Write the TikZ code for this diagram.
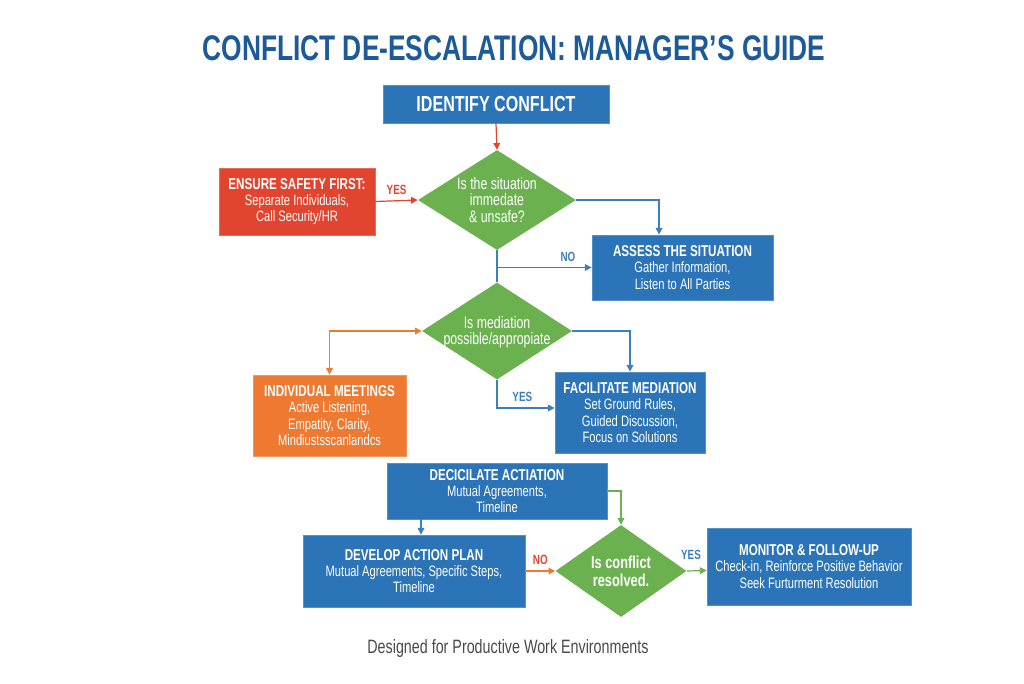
\documentclass[tikz,border=0pt]{standalone}
\usepackage{fontspec}
\setmainfont{Liberation Sans}[FakeStretch=0.74]
\usetikzlibrary{shapes.geometric,arrows.meta,calc}
\definecolor{boxblue}{HTML}{2B74B8}
\definecolor{titleblue}{HTML}{1D5A99}
\definecolor{dgreen}{HTML}{6BB150}
\definecolor{lgreen}{HTML}{6BB150}
\definecolor{bred}{HTML}{E2452F}
\definecolor{borange}{HTML}{EE7A31}
\definecolor{lblue}{HTML}{3B7FC0}
\definecolor{fgray}{HTML}{4A4A4A}
\tikzset{
  box/.style={draw=#1!80!white, line width=0.6pt, fill=#1, text=white, align=center, inner sep=2pt, font=\fontsize{11.3}{12.3}\selectfont},
  dia/.style={diamond, fill=dgreen, draw=none, inner sep=0pt},
  diatext/.style={text=white, align=center, inner sep=0pt, font=\fontsize{12.5}{12.3}\selectfont},
  conn/.style={line width=0.9pt, -{Triangle[length=5pt,width=5pt]}},
  lab/.style={font=\bfseries\fontsize{10}{12}\selectfont},
}
\newcommand{\hd}[1]{{\bfseries\fontsize{11.8}{13.5}\selectfont #1}}
\begin{document}
\begin{tikzpicture}[x=0.75pt,y=-0.75pt]
\useasboundingbox (0,0) rectangle (1024,683);
\fill[white] (0,0) rectangle (1024,683);
% title
\node[text=titleblue, font=\bfseries\fontsize{26.7}{30}\selectfont] (title) at (514,48) {CONFLICT DE-ESCALATION: MANAGER'S GUIDE};
% boxes
\node[box=boxblue, minimum width=226*0.75pt, minimum height=38*0.75pt, font=\bfseries\fontsize{16.3}{18}\selectfont] (idc) at (496,104) {IDENTIFY CONFLICT};
\node[box=bred, minimum width=156*0.75pt, minimum height=67*0.75pt] (ensure) at (297,201.5) {\hd{ENSURE SAFETY FIRST:}\\Separate Individuals,\\Call Security/HR};
\node[box=boxblue, minimum width=181*0.75pt, minimum height=65*0.75pt] (assess) at (682.5,267.5) {\hd{ASSESS THE SITUATION}\\Gather Information,\\Listen to All Parties};
\node[box=borange, minimum width=153*0.75pt, minimum height=81*0.75pt] (indiv) at (329.5,415.5) {\hd{INDIVIDUAL MEETINGS}\\Active Listening,\\Empatity, Clarity,\\Mindiustsscanlandcs};
\node[box=boxblue, minimum width=150*0.75pt, minimum height=81*0.75pt] (facil) at (630,412.5) {\hd{FACILITATE MEDIATION}\\Set Ground Rules,\\Guided Discussion,\\Focus on Solutions};
\node[box=boxblue, minimum width=220*0.75pt, minimum height=56*0.75pt] (decic) at (497,491) {\hd{DECICILATE ACTIATION}\\Mutual Agreements,\\Timeline};
\node[box=boxblue, minimum width=222*0.75pt, minimum height=72*0.75pt] (develop) at (414,571) {\hd{DEVELOP ACTION PLAN}\\Mutual Agreements, Specific Steps,\\Timeline};
\node[box=boxblue, minimum width=204*0.75pt, minimum height=77*0.75pt] (monitor) at (809,566.5) {\hd{MONITOR \& FOLLOW-UP}\\Check-in, Reinforce Positive Behavior\\Seek Furturment Resolution};
% diamonds
\node[dia, minimum width=158*0.75pt, minimum height=100*0.75pt] (d1) at (497,200) {};
\node[diatext] (d1t) at (d1.center) {Is the situation\\immedate\\\& unsafe?};
\node[dia, minimum width=150*0.75pt, minimum height=97*0.75pt] (d2) at (497,331) {};
\node[diatext] (d2t) at ([yshift=-1pt]d2.center) {Is mediation\\possible/appropiate};
\node[dia, minimum width=131*0.75pt, minimum height=92*0.75pt] (d3) at (621,571) {};
\node[diatext, font=\bfseries\fontsize{13}{13.5}\selectfont] (d3t) at (d3.center) {Is conflict\\resolved.};
% connectors
\draw[conn, bred] (idc.south) -- (d1.north);
\draw[conn, bred] (ensure.east) -- node[lab, above=1pt, text=bred] (yes1) {YES} (d1.west);
\draw[conn, lblue] (d1.east) -| ([xshift=-17.6pt]assess.north);
\draw[line width=0.9pt, lblue] (d1.south) -- (d2.north);
\draw[conn, lblue] (d1.south |- assess.west) -- node[lab, above=1pt, pos=0.75, text=lblue] (no1) {NO} (assess.west);
\draw[line width=0.9pt, borange, {Triangle[length=5pt,width=5pt]}-{Triangle[length=5pt,width=5pt]}] (d2.west) -| (indiv.north);
\draw[conn, lblue] (d2.east) -| (facil.north);
\draw[conn, lblue] (d2.south) |- node[lab, above=1pt, pos=0.72, text=lblue] (yes2) {YES} ([yshift=3.4pt]facil.west);
\draw[conn, lblue] ([xshift=-57pt]decic.south) -- ([xshift=5.25pt]develop.north);
\draw[conn, lgreen] (decic.east) -| (d3.north);
\draw[conn, borange] (develop.east) -- node[lab, above=1pt, text=bred] (no2) {NO} (d3.west);
\draw[conn, lgreen] (d3.east) -- ([yshift=-3pt]monitor.west);
\node[lab, text=lblue] (yes3) at (691,555) {YES};
% footer
\node[text=fgray, font=\fontsize{14.5}{16}\selectfont] (foot) at (508,648) {Designed for Productive Work Environments};
\end{tikzpicture}
\end{document}
